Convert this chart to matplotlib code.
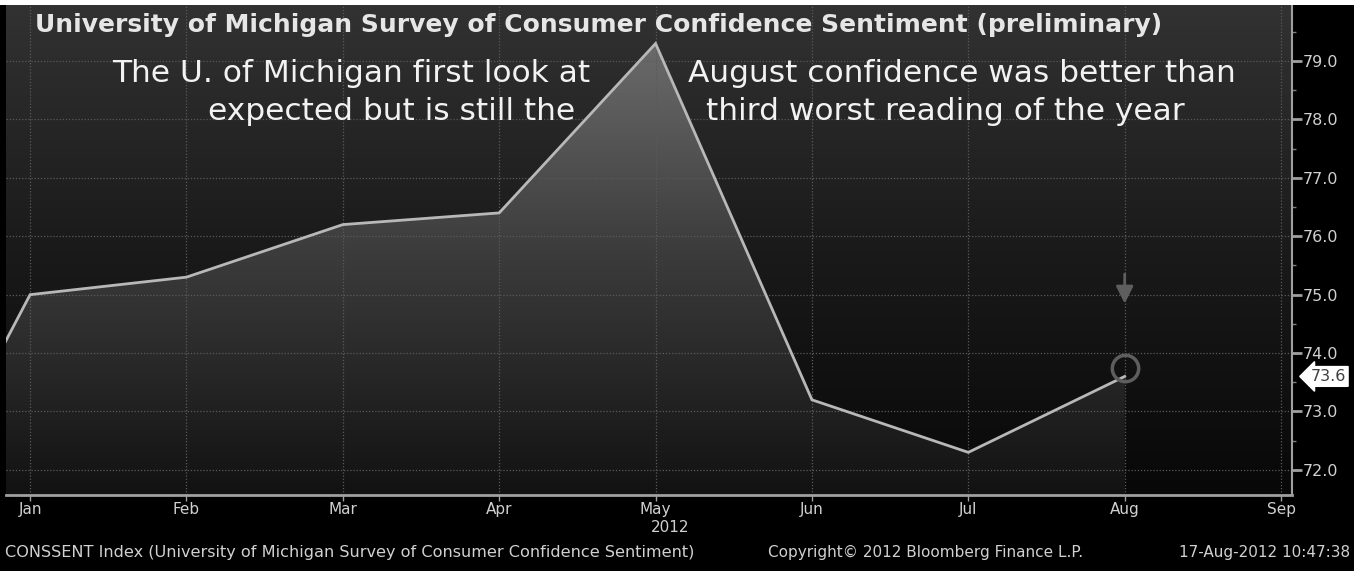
import matplotlib.pyplot as plt
import numpy as np
from matplotlib.colors import LinearSegmentedColormap
from matplotlib.patches import Polygon, Rectangle
from matplotlib.transforms import blended_transform_factory

# monthly readings (Dec 2011 .. Aug 2012), x = month index with Jan 2012 = 0
x_pos = [-1, 0, 1, 2, 3, 4, 5, 6, 7]
values = [69.9, 75.0, 75.3, 76.2, 76.4, 79.3, 73.2, 72.3, 73.6]
tick_pos = [0, 1, 2, 3, 4, 5, 6, 7, 8]
tick_labels = ['Jan', 'Feb', 'Mar', 'Apr', 'May', 'Jun', 'Jul', 'Aug', 'Sep']
y_ticks = [72.0, 73.0, 74.0, 75.0, 76.0, 77.0, 78.0, 79.0]
last_value = 73.6

W, H = 1354, 571
fig = plt.figure(figsize=(W / 100, H / 100), dpi=100)
fig.patch.set_facecolor('black')

ax = fig.add_axes([6 / W, (H - 495) / H, (1292 - 6) / W, (495 - 5) / H])
x0, x1 = -0.154, 8.07
y0, y1 = 71.57, 79.96
ax.set_xlim(x0, x1)
ax.set_ylim(y0, y1)

# background gradient
bg = LinearSegmentedColormap.from_list('bg', ['#080808', '#1a1a1a', '#323232'])
grad = np.linspace(0, 1, 256).reshape(-1, 1)
ax.imshow(grad, extent=[x0, x1, y0, y1], origin='lower', aspect='auto',
          cmap=bg, zorder=0)

# gradient fill under the line
fillc = LinearSegmentedColormap.from_list('fill', ['#121212', '#3c3c3c', '#747474'])
im = ax.imshow(grad, extent=[x0, x1, y0, y1], origin='lower', aspect='auto',
               cmap=fillc, zorder=1)
poly = Polygon(list(zip(x_pos, values)) + [(x_pos[-1], y0), (x_pos[0], y0)],
               closed=True, fc='none', ec='none')
ax.add_patch(poly)
im.set_clip_path(poly)

ax.set_xlim(x0, x1)
ax.set_ylim(y0, y1)

# grid
for yt in y_ticks:
    ax.axhline(yt, color='#5a5a5a', lw=0.9, ls=(0, (1, 1.5)), zorder=2)
for xt in tick_pos:
    ax.axvline(xt, color='#5a5a5a', lw=0.9, ls=(0, (1, 1.5)), zorder=2)

ax.plot(x_pos, values, color='#b8b8b8', lw=2, zorder=3, solid_joinstyle='miter')

# marker on last reading and arrow above it
ax.plot([7], [73.75], marker='o', ms=19, mfc='none', mec='#5e5e5e', mew=2.5, zorder=4)
ax.annotate('', xy=(7, 74.8), xytext=(7, 75.4),
            arrowprops=dict(arrowstyle='-|>', color='#5e5e5e', lw=2,
                            mutation_scale=26), zorder=4)

# axes styling
for s in ['top', 'left']:
    ax.spines[s].set_visible(False)
ax.spines['right'].set_color('#a0a0a0')
ax.spines['right'].set_linewidth(1.5)
ax.spines['bottom'].set_color('#a0a0a0')
ax.spines['bottom'].set_linewidth(2)
ax.yaxis.tick_right()
ax.set_yticks(y_ticks)
ax.set_yticklabels(['%.1f' % v for v in y_ticks])
ax.set_yticks(np.arange(72.5, 79.6, 1.0), minor=True)
ax.tick_params(axis='y', which='major', colors='#a0a0a0', labelcolor='#d0d0d0',
               length=7, width=2, labelsize=11.5, pad=1)
ax.tick_params(axis='y', which='minor', colors='#808080', length=3, width=1)
ax.set_xticks(tick_pos)
ax.set_xticklabels(tick_labels)
ax.tick_params(axis='x', colors='#a0a0a0', labelcolor='#d0d0d0', length=4,
               width=1, labelsize=11, pad=1)

# last value tag
tr = blended_transform_factory(ax.transAxes, ax.transData)
ax.text(1.0 + 36 / 1286, last_value, '73.6', transform=tr, ha='center', va='center',
        fontsize=11.5, color='#404040',
        bbox=dict(boxstyle='larrow,pad=0.15', fc='white', ec='white'))

# titles and annotations
fig.patches.append(Rectangle((0, 1 - 5 / H), 1, 5 / H, transform=fig.transFigure,
                             fc='white', ec='none'))
fig.text(35 / W, 1 - 25 / H, 'University of Michigan Survey of Consumer Confidence Sentiment (preliminary)',
         ha='left', va='center', fontsize=18, fontweight='bold', color='#e6e6e6')
fig.text(351 / W, 1 - 73 / H, 'The U. of Michigan first look at',
         ha='center', va='center', fontsize=22.5, color='#f2f2f2')
fig.text(392 / W, 1 - 112 / H, 'expected but is still the',
         ha='center', va='center', fontsize=22.5, color='#f2f2f2')
fig.text(962 / W, 1 - 73 / H, 'August confidence was better than',
         ha='center', va='center', fontsize=22.5, color='#f2f2f2')
fig.text(945 / W, 1 - 112 / H, 'third worst reading of the year',
         ha='center', va='center', fontsize=22.5, color='#f2f2f2')

# footer
fig.text(670 / W, 1 - 527 / H, '2012', ha='center', va='center', fontsize=11, color='#d0d0d0')
fig.text(5 / W, 1 - 552 / H,
         'CONSSENT Index (University of Michigan Survey of Consumer Confidence Sentiment)',
         ha='left', va='center', fontsize=11.6, color='#d0d0d0')
fig.text(768 / W, 1 - 552 / H, 'Copyright\u00a9 2012 Bloomberg Finance L.P.',
         ha='left', va='center', fontsize=11, color='#d0d0d0')
fig.text(1350 / W, 1 - 552 / H, '17-Aug-2012 10:47:38',
         ha='right', va='center', fontsize=11, color='#d0d0d0')

fig.savefig('out.png', dpi=100, facecolor=fig.get_facecolor())
